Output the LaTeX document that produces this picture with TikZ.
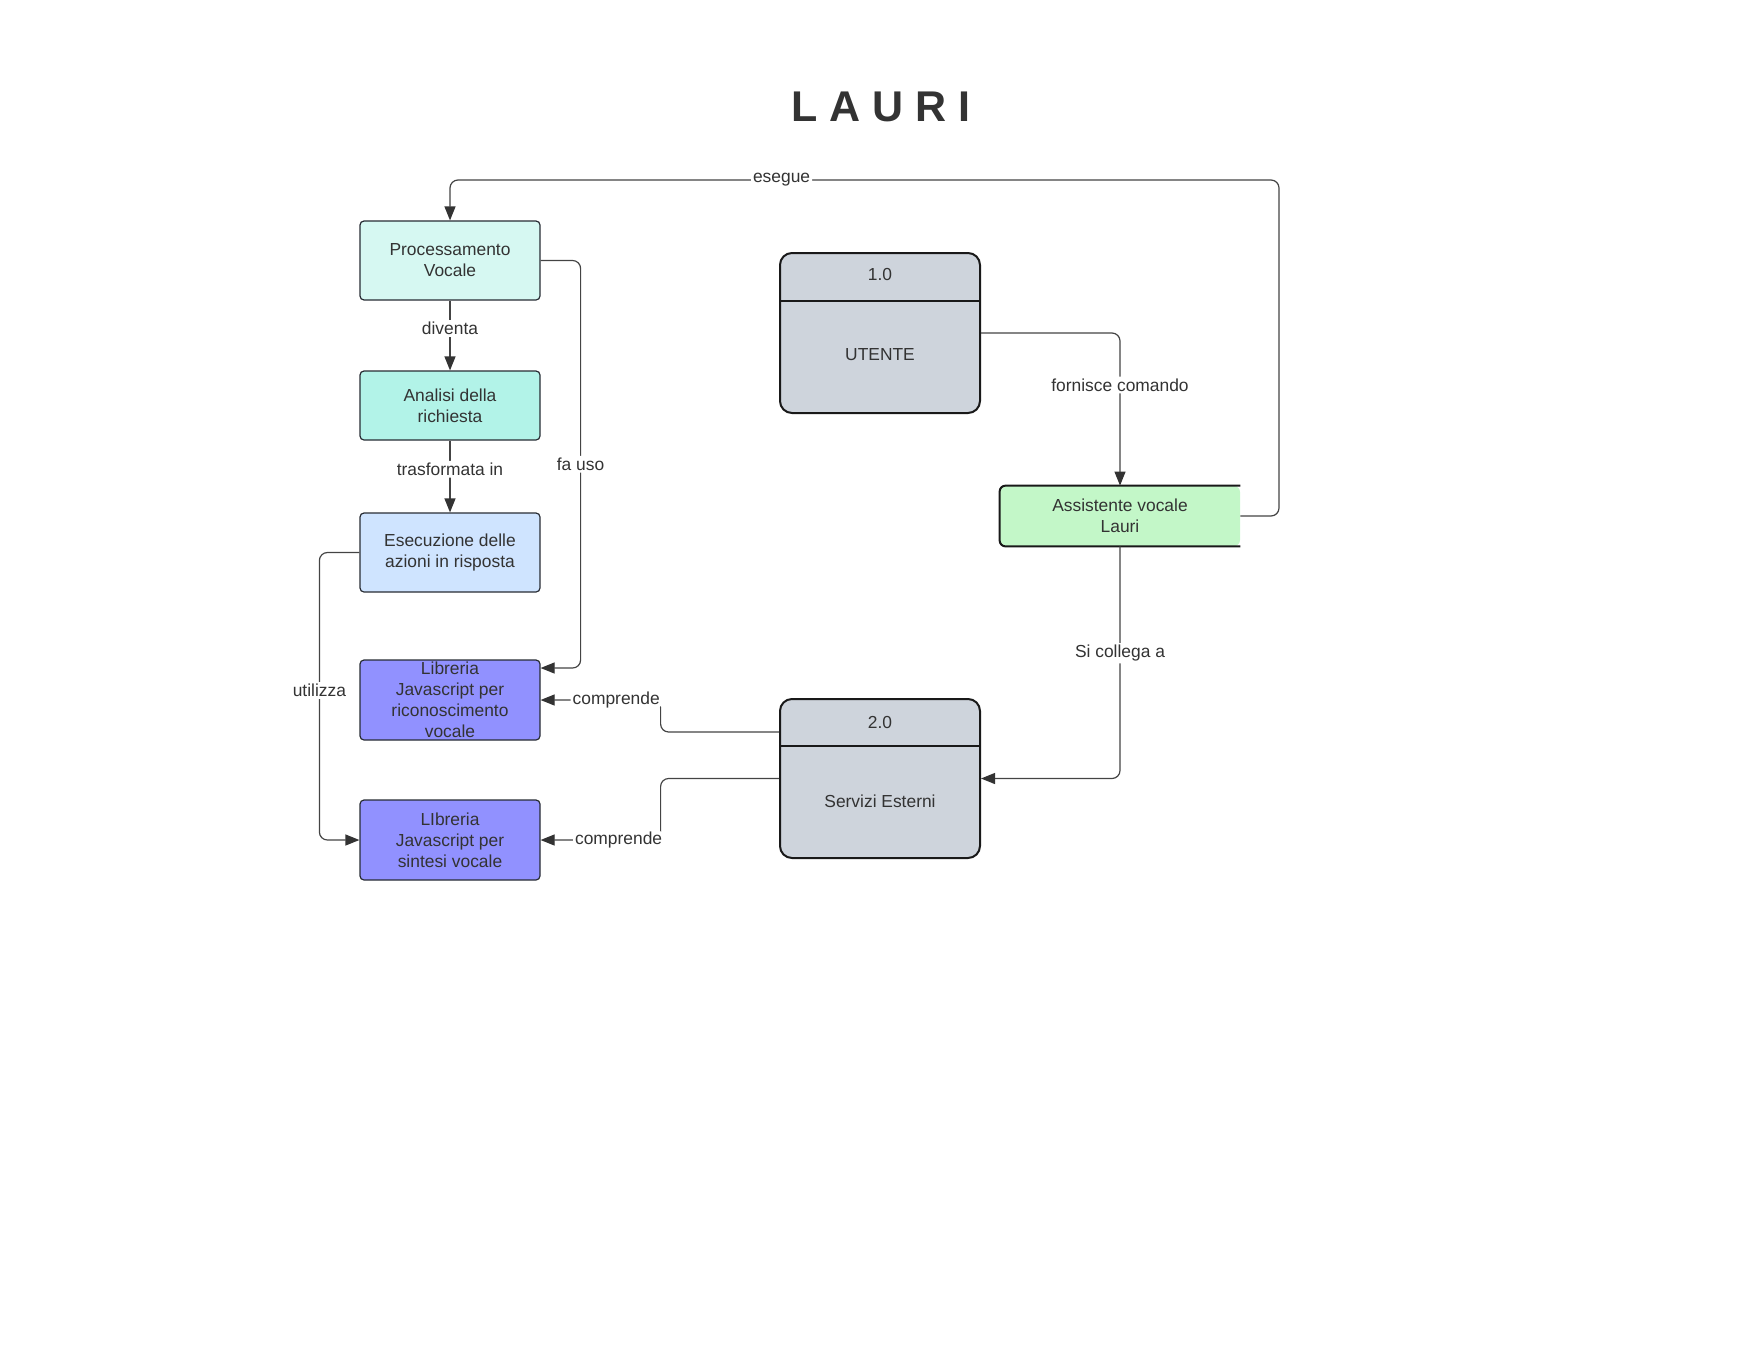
\documentclass[tikz,border=0pt]{standalone}
\usepackage{fontspec}
\setmainfont{Liberation Sans}
\usetikzlibrary{arrows.meta,positioning}
\definecolor{lrtext}{RGB}{51,51,51}
\definecolor{lrline}{RGB}{68,68,68}
\definecolor{lrborder}{RGB}{40,44,52}
\definecolor{lrcyanlight}{RGB}{214,248,242}
\definecolor{lrcyan}{RGB}{178,243,232}
\definecolor{lrblue}{RGB}{207,228,255}
\definecolor{lrpurple}{RGB}{145,145,255}
\definecolor{lrgray}{RGB}{206,212,220}
\definecolor{lrgreen}{RGB}{195,247,200}

\begin{document}
\begin{tikzpicture}[
  x=0.5pt,y=-0.5pt,
  every node/.style={font=\fontsize{8.7}{10.5}\selectfont,text=lrtext},
  box/.style={draw=lrborder,line width=0.6pt,rounded corners=2pt,minimum width=90pt,minimum height=39.5pt,inner sep=0pt,align=center},
  store/.style={draw=black!90,line width=1pt,rounded corners=6pt,fill=lrgray,minimum width=100pt,minimum height=80pt},
  conn/.style={draw=lrline,line width=0.6pt,rounded corners=4pt},
  arr/.style={conn,-{Triangle[length=7pt,width=5.5pt,color=lrtext]}},
  lbl/.style={fill=white,inner sep=1pt}
]
\useasboundingbox (0,0) rectangle (1760,1360);

\node[font=\fontsize{21.5}{24}\selectfont\bfseries] (title) at (881,107) {L A U R I};

% left column
\node[box,fill=lrcyanlight] (proc) at (450,260.5) {Processamento\\Vocale};
\node[box,fill=lrcyan,minimum height=34.5pt] (anal) at (450,405.5) {Analisi della\\richiesta};
\node[box,fill=lrblue] (esec) at (450,552.5) {Esecuzione delle\\azioni in risposta};
\node[box,fill=lrpurple,minimum height=40pt] (ricon) at (450,700) {Libreria\\Javascript per\\riconoscimento\\vocale};
\node[box,fill=lrpurple,minimum height=40pt] (sint) at (450,840) {LIbreria\\Javascript per\\sintesi vocale};

% stores
\node[store] (utente) at (880,333) {};
\draw[line width=1pt,black!90] ([yshift=-24.5pt]utente.north west) -- ([yshift=-24.5pt]utente.north east);
\node (utenteid) at (880,275) {1.0};
\node (utentetxt) at (880,355) {UTENTE};

\node[store,minimum height=79.5pt] (serv) at (880,778.5) {};
\draw[line width=1pt,black!90] ([yshift=-24pt]serv.north west) -- ([yshift=-24pt]serv.north east);
\node (servid) at (880,722) {2.0};
\node (servtxt) at (880,801) {Servizi Esterni};

% assistant, open on the right
\node[fill=lrgreen,rounded corners=3pt,minimum width=120pt,minimum height=30pt,inner sep=0pt,align=center] (assist) at (1120,516) {Assistente vocale\\Lauri};
\draw[line width=1pt,black!90,rounded corners=3pt] (assist.north east) -- (assist.north west) -- (assist.south west) -- (assist.south east);

\coordinate (eseguecorner) at (1279,180);

% connectors
\draw[arr] (assist.east) -| (eseguecorner) -| node[lbl,pos=0.3]{esegue} (proc.north);
\draw[arr] (proc.south) -- node[lbl,pos=0.4]{diventa} (anal.north);
\draw[arr] (anal.south) -- node[lbl,pos=0.4]{trasformata in} (esec.north);
\draw[arr] (proc.east) -- ++(40,0) |- node[lbl,pos=0.25]{fa uso} ([yshift=16pt]ricon.east);
\draw[arr] (esec.west) -- ++(-40,0) |- node[lbl,pos=0.24]{utilizza} (sint.west);
\draw[arr] (utente.east) -| node[lbl,pos=0.67]{fornisce comando} (assist.north);
\draw[arr] (assist.south) |- node[lbl,pos=0.23]{Si collega a} (serv.east);
\draw[arr] ([yshift=23.25pt]serv.west) -| ([xshift=60pt]ricon.east) -- node[lbl,pos=0.37]{comprende} (ricon.east);
\draw[arr] (serv.west) -| ([xshift=60pt]sint.east) -- node[lbl,pos=0.35]{comprende} (sint.east);
\end{tikzpicture}
\end{document}
